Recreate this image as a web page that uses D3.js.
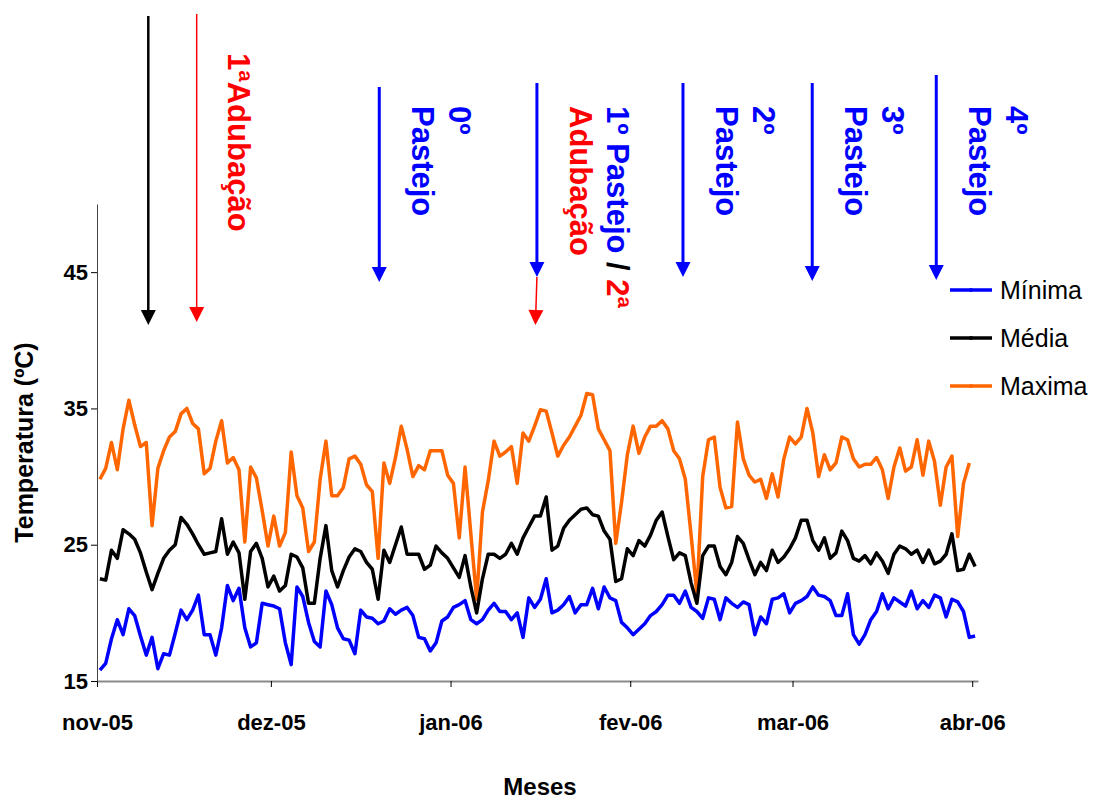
<!DOCTYPE html>
<html>
<head>
<meta charset="utf-8">
<script src="https://cdn.jsdelivr.net/npm/d3@7"></script>
<style>
  body { margin: 0; background: #fff; }
  svg text { font-family: "Liberation Sans", Arial, sans-serif; }
</style>
</head>
<body>
<div id="chart"></div>
<script>
// daily temperatures, 1 nov 2005 onwards (one value per day)
var minima = [15.8,16.3,18.1,19.5,18.4,20.3,19.8,18.3,16.9,18.2,
  15.9,17.0,16.9,18.5,20.2,19.5,20.2,21.3,18.4,18.4,
  16.9,18.9,22.0,20.9,21.8,18.9,17.5,17.8,20.7,20.6,
  20.5,20.3,17.8,16.2,21.9,21.2,19.3,17.9,17.5,21.6,
  20.6,18.9,18.1,18.0,17.0,20.2,19.7,19.6,19.2,19.4,
  20.3,19.9,20.2,20.4,19.8,18.2,18.1,17.2,17.8,19.4,
  19.7,20.4,20.6,20.9,19.5,19.2,19.5,20.2,20.7,20.1,
  20.1,19.5,20.0,18.2,21.1,20.4,21.0,22.5,20.0,20.2,
  20.6,21.2,20.0,20.6,20.6,21.8,20.3,21.9,21.1,20.9,
  19.3,18.9,18.4,18.8,19.2,19.8,20.1,20.6,21.3,21.3,
  20.7,21.6,20.4,20.1,19.6,21.1,21.0,19.5,21.1,20.7,
  20.4,20.8,20.6,18.4,19.7,19.2,21.0,21.1,21.4,20.0,
  20.7,20.9,21.2,21.9,21.3,21.2,20.9,19.8,19.8,21.4,
  18.4,17.7,18.4,19.5,20.1,21.4,20.3,21.1,20.8,20.5,
  21.6,20.3,20.9,20.4,21.3,21.1,19.7,21.0,20.8,20.1,
  18.2,18.3];

var media = [22.5,22.4,24.6,24.0,26.1,25.8,25.4,24.4,23.0,21.7,
  22.9,24.0,24.6,25.0,27.0,26.5,25.8,25.0,24.3,24.4,
  24.5,26.9,24.3,25.2,24.4,21.0,24.5,25.1,24.0,21.9,
  22.7,21.6,22.0,24.3,24.1,23.3,20.7,20.7,24.0,26.4,
  23.1,21.9,23.1,24.1,24.7,24.5,23.7,23.2,21.0,24.6,
  23.7,25.0,26.3,24.3,24.3,24.3,23.2,23.5,24.9,24.4,
  24.0,23.3,22.6,24.2,21.9,20.0,22.5,24.3,24.3,24.0,
  24.3,25.1,24.3,25.5,26.3,27.1,27.1,28.5,24.6,24.9,
  26.2,26.8,27.2,27.6,27.7,27.2,27.1,26.0,25.4,22.3,
  22.5,24.7,24.2,25.3,24.9,25.7,26.8,27.4,25.6,23.9,
  24.4,24.2,22.2,20.7,24.2,24.9,24.9,23.4,22.8,23.7,
  25.6,25.1,23.9,22.8,23.7,23.1,24.6,23.7,24.1,24.7,
  25.5,26.8,26.8,25.3,24.6,25.5,24.0,24.4,26.0,25.3,
  24.0,23.8,24.2,23.6,24.4,23.8,22.9,24.3,24.9,24.7,
  24.3,24.6,23.7,24.6,23.6,23.8,24.3,25.8,23.1,23.2,
  24.3,23.4];

var maxima = [29.8,30.6,32.5,30.5,33.5,35.6,33.8,32.2,32.5,26.4,
  30.6,31.9,32.9,33.3,34.6,35.0,33.9,33.5,30.2,30.6,
  32.6,34.1,31.0,31.4,30.5,25.2,30.7,29.9,27.5,24.9,
  27.1,24.9,25.9,31.8,28.6,27.7,24.5,25.2,29.8,32.6,
  28.6,28.6,29.2,31.3,31.5,30.9,29.4,28.9,24.0,31.0,
  29.5,31.4,33.7,32.0,30.0,30.8,30.5,31.9,31.9,31.9,
  30.1,29.5,25.5,30.7,25.8,21.0,27.4,29.7,32.6,31.5,
  31.8,32.2,29.5,33.2,32.6,33.7,34.9,34.8,33.2,31.5,
  32.3,32.9,33.7,34.5,36.1,36.0,33.5,32.7,31.9,25.1,
  28.1,31.6,33.7,31.7,32.9,33.7,33.7,34.1,33.5,31.9,
  31.3,29.8,25.7,21.4,30.0,32.7,32.9,29.2,27.7,27.8,
  34.0,31.3,30.1,29.6,29.8,28.4,30.2,28.5,31.3,32.9,
  32.4,32.9,35.0,33.2,30.0,31.6,30.5,31.0,32.9,32.7,
  31.3,30.7,30.9,30.9,31.4,30.5,28.4,30.7,32.1,30.4,
  30.7,32.7,30.1,32.6,31.1,27.9,30.7,31.5,25.6,29.5,
  31.0];

var seriesNames = ["Mínima", "Média", "Maxima"];
var seriesColors = ["#0000ff", "#000000", "#ff6600"];

var monthLabels = ["nov-05", "dez-05", "jan-06", "fev-06", "mar-06", "abr-06"];
var yTicks = [15, 25, 35, 45];

// events: days after 1 nov 2005, arrow colour, label lines
var eventDays = [8.85, 17.2, 48.7, 75.9, 101.1, 123.4, 144.8];
var eventColors = ["#000000", "#ff0000", "#0000ff", "#0000ff", "#0000ff", "#0000ff", "#0000ff"];
var eventLabels = [
  [],
  [[["1ªAdubação", "#ff0000"]]],
  [[["0º", "#0000ff"]], [["Pastejo", "#0000ff"]]],
  [[["1º Pastejo ", "#0000ff"], ["/ ", "#000000"], ["2ª", "#ff0000"]], [["Adubação", "#ff0000"]]],
  [[["2º", "#0000ff"]], [["Pastejo", "#0000ff"]]],
  [[["3º", "#0000ff"]], [["Pastejo", "#0000ff"]]],
  [[["4º", "#0000ff"]], [["Pastejo", "#0000ff"]]]
];

var DAY = 864e5;
var start = Date.UTC(2005, 10, 1);
function dayDate(d){ return new Date(start + d * DAY); }

var width = 1094, height = 799;
var plotLeft = 97, plotRight = 978, plotTop = 204, plotBottom = 681;

var svg = d3.select("#chart").append("svg")
  .attr("width", width)
  .attr("height", height);

var x = d3.scaleUtc()
  .domain([dayDate(0), dayDate(152)])
  .range([plotLeft, plotRight]);

var y = d3.scaleLinear()
  .domain([15, 50])
  .range([plotBottom, plotTop]);

// axes
var monthDates = [0, 30, 61, 92, 120, 151].map(dayDate);
var xAxis = d3.axisBottom(x)
  .tickValues(monthDates)
  .tickFormat(function(d, i){ return monthLabels[i]; })
  .tickSize(6)
  .tickSizeOuter(0)
  .tickPadding(27);
var xg = svg.append("g").attr("transform", "translate(0," + plotBottom + ")").call(xAxis);
xg.select(".domain").attr("stroke", "#8a8a8a").attr("stroke-width", 2);
xg.selectAll("text").attr("font-size", 22).attr("font-weight", "bold").attr("fill", "#000");

var yAxis = d3.axisLeft(y)
  .tickValues(yTicks)
  .tickSize(6)
  .tickSizeOuter(0)
  .tickPadding(3);
var yg = svg.append("g").attr("transform", "translate(" + plotLeft + ",0)").call(yAxis);
yg.select(".domain").attr("stroke", "#444");
yg.selectAll("text").attr("font-size", 22).attr("font-weight", "bold").attr("fill", "#000");

svg.append("text")
  .attr("transform", "translate(33," + ((plotTop + plotBottom) / 2) + ") rotate(-90)")
  .attr("text-anchor", "middle")
  .attr("font-size", 25).attr("font-weight", "bold")
  .text("Temperatura (ºC)");

svg.append("text")
  .attr("x", 540).attr("y", 795)
  .attr("text-anchor", "middle")
  .attr("font-size", 24).attr("font-weight", "bold")
  .text("Meses");

// series lines
var line = d3.line()
  .x(function(d, i){ return x(dayDate(i + 0.5)); })
  .y(function(d){ return y(d); });

var allSeries = [minima, media, maxima];
for (var s = allSeries.length - 1; s >= 0; s--) {
  svg.append("path")
    .datum(allSeries[s])
    .attr("fill", "none")
    .attr("stroke", seriesColors[s])
    .attr("stroke-width", 3.5)
    .attr("stroke-linejoin", "round")
    .attr("d", line);
}

// legend
var legend = svg.append("g").attr("transform", "translate(950,290)");
seriesNames.forEach(function(name, i){
  var g = legend.append("g").attr("transform", "translate(0," + (i * 48) + ")");
  g.append("line").attr("x1", 0).attr("x2", 42)
    .attr("stroke", seriesColors[i]).attr("stroke-width", 3.5);
  g.append("circle").attr("cx", 21).attr("r", 2).attr("fill", seriesColors[i]);
  g.append("text").attr("x", 50).attr("dy", "0.35em")
    .attr("font-size", 25).text(name);
});

// arrows
function arrow(x1, y1, x2, y2, color, w){
  var ang = Math.atan2(y2 - y1, x2 - x1);
  var len = 15, half = 7.5;
  var bx = x2 - len * Math.cos(ang), by = y2 - len * Math.sin(ang);
  svg.append("line")
    .attr("x1", x1).attr("y1", y1).attr("x2", bx).attr("y2", by)
    .attr("stroke", color).attr("stroke-width", w);
  var px = -Math.sin(ang) * half, py = Math.cos(ang) * half;
  svg.append("path")
    .attr("d", "M" + x2 + "," + y2 + "L" + (bx + px) + "," + (by + py) + "L" + (bx - px) + "," + (by - py) + "Z")
    .attr("fill", color);
}

var arrowTop = [16, 14, 87, 83, 83, 83, 75];
var arrowTip = [325, 322, 282, 277, 277, 281, 280];
var arrowWidth = [2.5, 1.5, 3, 3, 3, 3, 3];

eventDays.forEach(function(d, i){
  var ex = x(dayDate(d));
  arrow(ex, arrowTop[i], ex, arrowTip[i], eventColors[i], arrowWidth[i]);
  if (i === 3) {
    arrow(ex, arrowTip[i], ex - 1.5, 325, "#ff0000", 1.5);
  }
  var labels = eventLabels[i];
  if (!labels.length) return;
  var ty = (i === 1) ? 53 : 106;
  var tx = (i === 1) ? ex + 31 : ex + 70;
  var t = svg.append("text")
    .attr("transform", "translate(" + tx + "," + ty + ") rotate(90)")
    .attr("font-size", 31).attr("font-weight", "bold");
  labels.forEach(function(ln, j){
    ln.forEach(function(part, k){
      var ts = t.append("tspan").attr("fill", part[1]).text(part[0]);
      if (k === 0) ts.attr("x", 0).attr("dy", j === 0 ? 0 : 37);
    });
  });
});
</script>
</body>
</html>
